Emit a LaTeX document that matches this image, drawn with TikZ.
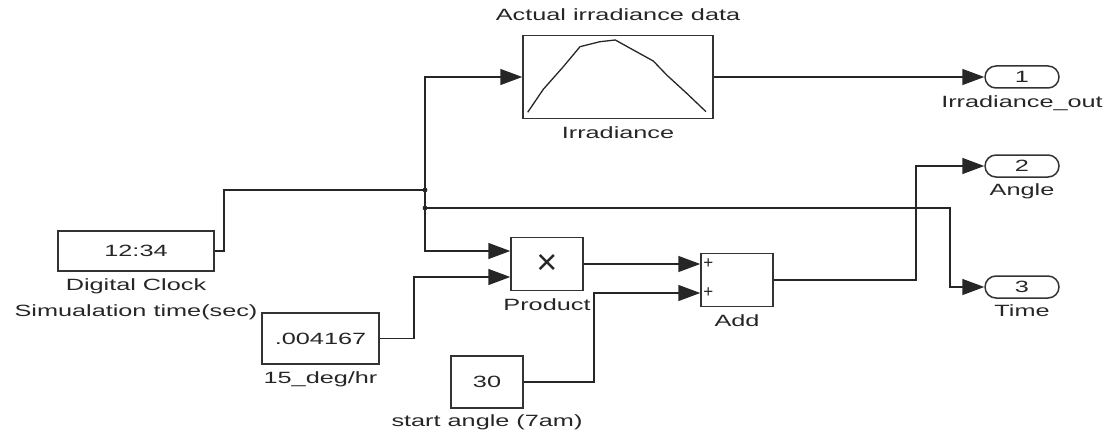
\documentclass[tikz,border=0pt]{standalone}
\usepackage{fontspec}
\setmainfont{Liberation Sans}[FakeStretch=1.55]
\newfontfamily\plainsans{Liberation Sans}
\usetikzlibrary{arrows.meta,positioning,calc}

\begin{document}
\begin{tikzpicture}[x=1pt,y=-1pt,
  every node/.style={font=\fontsize{16.3}{19}\selectfont,text=black!85},
  blk/.style={draw=black!80,line width=1.5pt,rectangle,inner sep=0pt},
  port/.style={draw=black!80,line width=1.5pt,rounded corners=11pt,minimum width=74pt,minimum height=22pt,inner sep=0pt},
  lab/.style={inner sep=0pt},
  wire/.style={draw=black!85,line width=1.5pt},
  sig/.style={wire,-{Triangle[length=22pt,width=16pt]}}]
  \useasboundingbox (0,0) rectangle (1107,433);
  % blocks
  \node[blk,minimum width=156pt,minimum height=40pt] (clock) at (136,251) {12:34};
  \node[lab,below=7pt of clock] (clocklab) {Digital Clock};
  \node[lab,below=10pt of clocklab] (simlab) {Simualation time(sec)};
  \node[blk,minimum width=190pt,minimum height=83pt] (irr) at (618,77) {};
  \node[lab,above=14pt of irr] (irrtitle) {Actual irradiance data};
  \node[lab,below=7pt of irr] (irrlab) {Irradiance};
  \draw[wire,line width=1.3pt,line join=round] (527.7,112.3) -- (543.3,89.3) -- (563.3,66.7) -- (580,46.7)
    -- (600,41.7) -- (615.3,40) -- (633.3,50) -- (653.3,61) -- (666.7,75) -- (686.7,93.3) -- (706,111.7);
  \node[blk,minimum width=72pt,minimum height=53pt,font=\plainsans\fontsize{36}{36}\selectfont] (prod) at (547,264) {×};
  \node[lab,below=7pt of prod] (prodlab) {Product};
  \node[blk,minimum width=72pt,minimum height=53pt] (add) at (737,280) {};
  \node[lab,below=7pt of add] (addlab) {Add};
  \node[blk,minimum width=117pt,minimum height=51pt] (gain) at (320.5,338.5) {.004167};
  \node[lab,below=7pt of gain] (gainlab) {15\_deg/hr};
  \node[blk,minimum width=72pt,minimum height=52pt] (cst) at (487,382) {30};
  \node[lab,below=6pt of cst] (cstlab) {start angle (7am)};
  % outports
  \node[port] (out1) at (1022,77) {1};
  \node[lab,below=7pt of out1] (out1lab) {Irradiance\_out};
  \node[port] (out2) at (1022,166) {2};
  \node[lab,below=6pt of out2] (out2lab) {Angle};
  \node[port] (out3) at (1022,287) {3};
  \node[lab,below=6pt of out3] (out3lab) {Time};
  % ports and bends
  \coordinate (j1) at (425,190);
  \coordinate (j2) at (425,208);
  \coordinate (tbend) at (950,208);
  \coordinate (pin1) at ($(prod.west)+(0,-13)$);
  \coordinate (pin2) at ($(prod.west)+(0,13)$);
  \coordinate (ain1) at ($(add.west)+(0,-16)$);
  \coordinate (ain2) at ($(add.west)+(0,13)$);
  \node[right=3pt of ain1,inner sep=0pt,font=\plainsans\fontsize{17}{17}\selectfont] (plus1) {+};
  \node[right=3pt of ain2,inner sep=0pt,font=\plainsans\fontsize{17}{17}\selectfont] (plus2) {+};
  % signals
  \draw[wire] (clock.east) -- ++(9,0) |- (j1);
  \draw[sig] (j1) |- (irr.west);
  \draw[sig] (j1) |- (pin1);
  \draw[sig] (j2) -- (tbend) |- (out3.west);
  \fill[black!85] (j1) circle (2.4);
  \fill[black!85] (j2) circle (2.4);
  \draw[sig] (irr.east) -- (out1.west);
  \draw[sig] (gain.east) -- ++(34,0) |- (pin2);
  \draw[sig] (prod.east) -- (ain1);
  \draw[sig] (cst.east) -- ++(70,0) |- (ain2);
  \draw[sig] (add.east) -- ++(142,0) |- (out2.west);
\end{tikzpicture}
\end{document}
